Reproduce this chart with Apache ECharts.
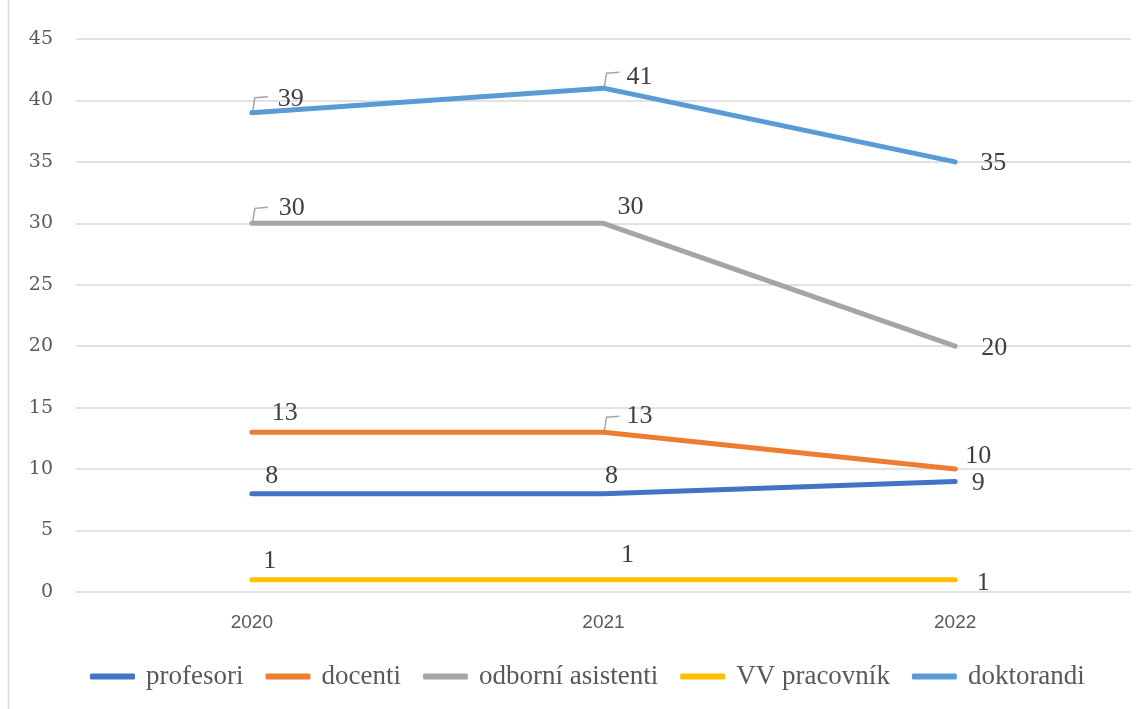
<!DOCTYPE html>
<html>
<head>
    <meta charset="utf-8">
    <script src="https://cdn.jsdelivr.net/npm/echarts@6/dist/echarts.min.js"></script>
    <style>
        html, body { margin: 0; padding: 0; background: #fff; }
    </style>
</head>
<body>
    <div id="chart" style="width: 1145px;height:709px;"></div>
    <script type="text/javascript">
        // data
        var years = ['2020', '2021', '2022'];
        var names = ['profesori', 'docenti', 'odborní asistenti', 'VV pracovník', 'doktorandi'];
        var profesori = [8, 8, 9];
        var docenti = [13, 13, 10];
        var asistenti = [30, 30, 20];
        var vvPracovnik = [1, 1, 1];
        var doktorandi = [39, 41, 35];
        var colors = ['#4472C4', '#ED7D31', '#A5A5A5', '#FFC000', '#5B9BD5'];

        // label offsets from the point (label centre), per series / per year
        var labelOffsets = [
            [[20, -18], [8, -18], [23, 2]],
            [[33, -19], [36, -16], [23, -13]],
            [[40, -15], [27, -16], [39, 2]],
            [[18, -19], [24, -25], [28, 3]],
            [[39, -14], [36, -11], [38, 1]]
        ];
        // which labels get a small leader line
        var leaders = [
            [false, false, false],
            [false, true, false],
            [true, false, false],
            [false, false, false],
            [true, true, false]
        ];

        var allValues = [profesori, docenti, asistenti, vvPracovnik, doktorandi];

        var series = [];
        for (var s = 0; s < names.length; s++) {
            series.push({
                name: names[s],
                type: 'line',
                data: allValues[s],
                symbol: 'circle',
                symbolSize: 2,
                showSymbol: true,
                lineStyle: { width: 5, color: colors[s], cap: 'round', join: 'round' },
                itemStyle: { color: colors[s] },
                emphasis: { disabled: true },
                label: {
                    show: true,
                    position: 'inside',
                    fontFamily: 'Liberation Serif',
                    fontSize: 26,
                    color: '#404040'
                },
                labelLayout: function (params) {
                    var off = labelOffsets[params.seriesIndex][params.dataIndex];
                    return { dx: off[0], dy: off[1] };
                }
            });
        }

        // leader lines, drawn at the points that have one
        var leaderData = [];
        for (var s2 = 0; s2 < names.length; s2++) {
            for (var j = 0; j < years.length; j++) {
                if (leaders[s2][j]) leaderData.push([j, allValues[s2][j]]);
            }
        }
        series.push({
            type: 'custom',
            silent: true,
            z: 3,
            data: leaderData,
            renderItem: function (params, api) {
                var p = api.coord([api.value(0), api.value(1)]);
                return {
                    type: 'polyline',
                    shape: { points: [[p[0] + 1, p[1] - 2], [p[0] + 3, p[1] - 15], [p[0] + 16, p[1] - 16]] },
                    style: { stroke: '#A5A5A5', lineWidth: 1.5, fill: null }
                };
            }
        });

        var myChart = echarts.init(document.getElementById('chart'));
        var option = {
            animation: false,
            color: colors,
            textStyle: { fontFamily: 'Liberation Serif' },
            grid: { left: 76, right: 14, top: 39, bottom: 117, containLabel: false },
            legend: {
                left: 85,
                bottom: 14,
                icon: 'roundRect',
                itemWidth: 45,
                itemHeight: 6,
                itemGap: 22,
                textStyle: {
                    fontFamily: 'Liberation Serif',
                    fontSize: 27,
                    color: '#595959',
                    padding: [0, 0, 0, 6]
                },
                data: names
            },
            xAxis: {
                type: 'category',
                data: years,
                boundaryGap: true,
                axisLine: { show: false },
                axisTick: { show: false },
                axisLabel: {
                    margin: 21,
                    fontFamily: 'Liberation Sans',
                    fontSize: 19,
                    color: '#595959'
                }
            },
            yAxis: {
                type: 'value',
                min: 0,
                max: 45,
                interval: 5,
                axisLine: { show: false },
                axisTick: { show: false },
                splitLine: { lineStyle: { color: '#D9D9D9', width: 1.5 } },
                axisLabel: {
                    margin: 23,
                    fontFamily: 'DejaVu Serif',
                    fontSize: 19,
                    color: '#595959'
                }
            },
            graphic: [{
                type: 'line',
                shape: { x1: 8.5, y1: 0, x2: 8.5, y2: 709 },
                style: { stroke: '#D9D9D9', lineWidth: 1.5 },
                silent: true
            }],
            series: series
        };
        myChart.setOption(option);
    </script>
</body>
</html>
